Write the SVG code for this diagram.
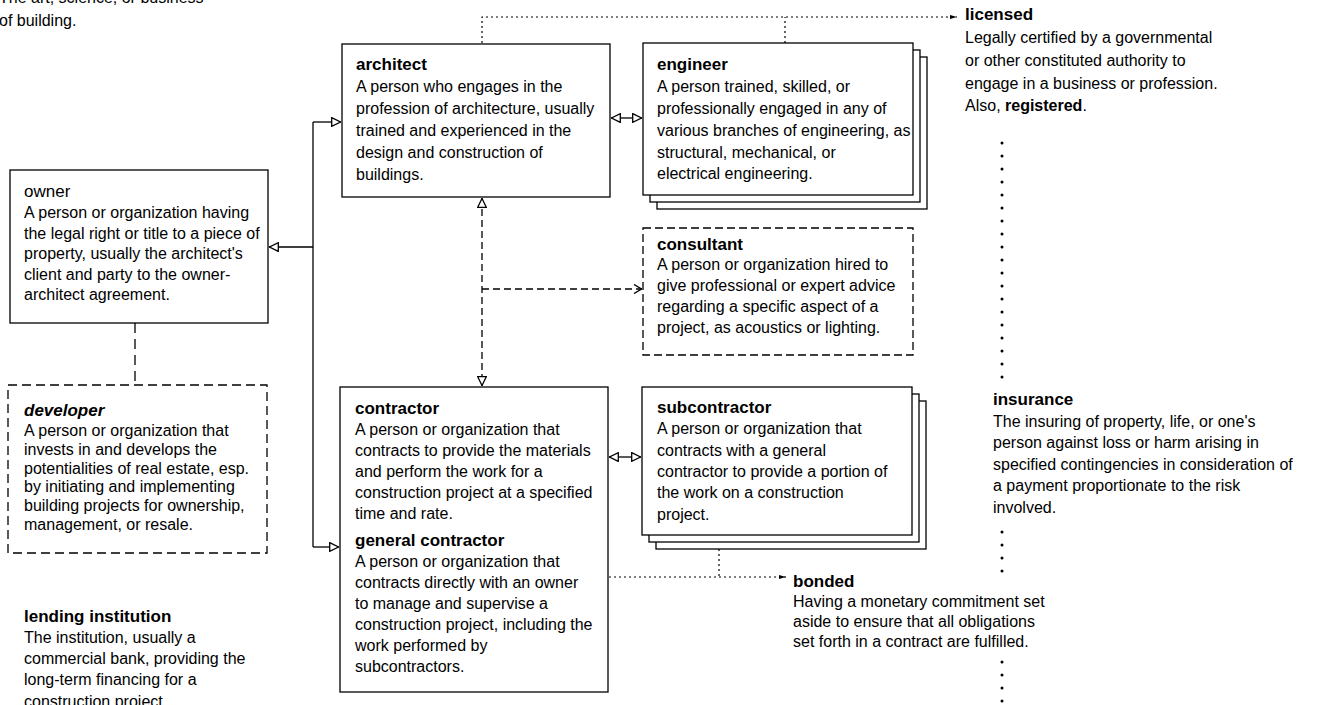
<svg xmlns="http://www.w3.org/2000/svg" width="1320" height="705" viewBox="0 0 1320 705">
<style>
text{font-family:"Liberation Sans",Arial,sans-serif;font-size:16px;fill:#000}
.t{font-weight:bold;font-size:17px}
.reg{font-weight:normal;font-size:17px}
.box{fill:#fff;stroke:#000;stroke-width:1.3}
.dbox{fill:#fff;stroke:#000;stroke-width:1.3;stroke-dasharray:8 4}
.ln{fill:none;stroke:#000;stroke-width:1.3}
.dash{fill:none;stroke:#000;stroke-width:1.3;stroke-dasharray:7 4}
.dot{fill:none;stroke:#000;stroke-width:1.2;stroke-dasharray:2 3}
.bigdot{fill:none;stroke:#000;stroke-width:3;stroke-linecap:round;stroke-dasharray:0 13}
</style>
<defs>
<marker id="tri" viewBox="0 0 10 10" refX="10" refY="5" markerWidth="10" markerHeight="10" markerUnits="userSpaceOnUse" orient="auto-start-reverse">
<path d="M0.7,0.7 L9.5,5 L0.7,9.3 Z" fill="#fff" stroke="#000" stroke-width="1.3" stroke-dasharray="none"/>
</marker>
<marker id="chev" viewBox="0 0 10 10" refX="10" refY="5" markerWidth="10" markerHeight="10" markerUnits="userSpaceOnUse" orient="auto">
<path d="M2,0.5 L9.5,5 L2,9.5" fill="none" stroke="#000" stroke-width="1.4" stroke-dasharray="none"/>
</marker>
<marker id="sm" viewBox="0 0 10 10" refX="10" refY="5" markerWidth="7" markerHeight="7" markerUnits="userSpaceOnUse" orient="auto">
<path d="M0,2 L10,5 L0,8 Z" fill="#000" stroke="none"/>
</marker>
</defs>

<g id="connectors">
<path class="ln" d="M313,122 V547"/>
<path class="ln" d="M313,122 H341" marker-end="url(#tri)"/>
<path class="ln" d="M313,247 H269" marker-end="url(#tri)"/>
<path class="ln" d="M313,547 H339" marker-end="url(#tri)"/>
<path class="ln" d="M611,118 H642" marker-start="url(#tri)" marker-end="url(#tri)"/>
<path class="ln" d="M609,457 H641" marker-start="url(#tri)" marker-end="url(#tri)"/>
<path class="dash" d="M482,198 V386" marker-start="url(#tri)" marker-end="url(#tri)"/>
<path class="dash" d="M482,289 H642" marker-end="url(#chev)"/>
<path class="dash" d="M135,323 V385" style="stroke-dasharray:10 6"/>
<path class="dot" d="M482,43 V17 H957" marker-end="url(#sm)"/>
<path class="dot" d="M785,43 V17"/>
<path class="dot" d="M609,577 H786" marker-end="url(#sm)"/>
<path class="dot" d="M719,549 V577"/>
<path class="bigdot" d="M1002,143 V386"/>
<path class="bigdot" d="M1002,532 V584"/>
<path class="bigdot" d="M1002,662 V705"/>
</g>

<g id="building-def">
<text x="-1" y="3">The art, science, or business</text>
<text x="-1" y="26">of building.</text>
</g>

<g id="owner">
<rect class="box" x="10" y="170" width="258" height="153"/>
<text x="24" y="197" class="reg">owner</text>
<text x="24" y="218">A person or organization having</text>
<text x="24" y="239">the legal right or title to a piece of</text>
<text x="24" y="259">property, usually the architect's</text>
<text x="24" y="280">client and party to the owner-</text>
<text x="24" y="300">architect agreement.</text>
</g>

<g id="developer">
<rect class="dbox" x="8" y="385" width="259" height="168" style="stroke-dasharray:9 5"/>
<text x="24" y="416" class="t" font-style="italic">developer</text>
<text x="24" y="436">A person or organization that</text>
<text x="24" y="455">invests in and develops the</text>
<text x="24" y="474">potentialities of real estate, esp.</text>
<text x="24" y="492">by initiating and implementing</text>
<text x="24" y="511">building projects for ownership,</text>
<text x="24" y="530">management, or resale.</text>
</g>

<g id="lending-institution">
<text x="24" y="622" class="t">lending institution</text>
<text x="24" y="643">The institution, usually a</text>
<text x="24" y="664">commercial bank, providing the</text>
<text x="24" y="685">long-term financing for a</text>
<text x="24" y="707">construction project.</text>
</g>

<g id="architect">
<rect class="box" x="342" y="44" width="268" height="153"/>
<text x="356" y="70" class="t">architect</text>
<text x="356" y="92">A person who engages in the</text>
<text x="356" y="114">profession of architecture, usually</text>
<text x="356" y="136">trained and experienced in the</text>
<text x="356" y="158">design and construction of</text>
<text x="356" y="180">buildings.</text>
</g>

<g id="engineer">
<rect class="box" x="657" y="57" width="270" height="152"/>
<rect class="box" x="650" y="50" width="270" height="152"/>
<rect class="box" x="643" y="43" width="270" height="152"/>
<text x="657" y="70" class="t">engineer</text>
<text x="657" y="92">A person trained, skilled, or</text>
<text x="657" y="114">professionally engaged in any of</text>
<text x="657" y="136">various branches of engineering, as</text>
<text x="657" y="158">structural, mechanical, or</text>
<text x="657" y="179">electrical engineering.</text>
</g>

<g id="licensed">
<text x="965" y="20" class="t">licensed</text>
<text x="965" y="43">Legally certified by a governmental</text>
<text x="965" y="66">or other constituted authority to</text>
<text x="965" y="89">engage in a business or profession.</text>
<text x="965" y="111">Also, <tspan font-weight="bold">registered</tspan>.</text>
</g>

<g id="consultant">
<rect class="dbox" x="643" y="228" width="270" height="127"/>
<text x="657" y="250" class="t">consultant</text>
<text x="657" y="270">A person or organization hired to</text>
<text x="657" y="291">give professional or expert advice</text>
<text x="657" y="312">regarding a specific aspect of a</text>
<text x="657" y="333">project, as acoustics or lighting.</text>
</g>

<g id="contractor">
<rect class="box" x="340" y="387" width="268" height="305"/>
<text x="355" y="414" class="t">contractor</text>
<text x="355" y="435">A person or organization that</text>
<text x="355" y="456">contracts to provide the materials</text>
<text x="355" y="477">and perform the work for a</text>
<text x="355" y="498">construction project at a specified</text>
<text x="355" y="519">time and rate.</text>
<text x="355" y="546" class="t">general contractor</text>
<text x="355" y="567">A person or organization that</text>
<text x="355" y="588">contracts directly with an owner</text>
<text x="355" y="609">to manage and supervise a</text>
<text x="355" y="630">construction project, including the</text>
<text x="355" y="651">work performed by</text>
<text x="355" y="672">subcontractors.</text>
</g>

<g id="subcontractor">
<rect class="box" x="656" y="401" width="270" height="148"/>
<rect class="box" x="649" y="394" width="270" height="148"/>
<rect class="box" x="642" y="387" width="270" height="148"/>
<text x="657" y="413" class="t">subcontractor</text>
<text x="657" y="434">A person or organization that</text>
<text x="657" y="456">contracts with a general</text>
<text x="657" y="477">contractor to provide a portion of</text>
<text x="657" y="498">the work on a construction</text>
<text x="657" y="520">project.</text>
</g>

<g id="bonded">
<text x="793" y="587" class="t">bonded</text>
<text x="793" y="607">Having a monetary commitment set</text>
<text x="793" y="627">aside to ensure that all obligations</text>
<text x="793" y="647">set forth in a contract are fulfilled.</text>
</g>

<g id="insurance">
<text x="993" y="405" class="t">insurance</text>
<text x="993" y="427">The insuring of property, life, or one's</text>
<text x="993" y="448">person against loss or harm arising in</text>
<text x="993" y="470">specified contingencies in consideration of</text>
<text x="993" y="491">a payment proportionate to the risk</text>
<text x="993" y="513">involved.</text>
</g>
</svg>
